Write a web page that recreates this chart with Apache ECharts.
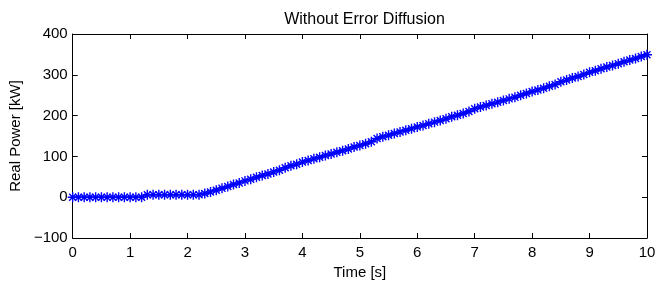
<!DOCTYPE html>
<html>
<head>
<meta charset="utf-8">
<script src="https://cdn.jsdelivr.net/npm/echarts@6/dist/echarts.min.js"></script>
<style>html,body{margin:0;padding:0;background:#fff}#c{width:664px;height:285px}</style>
</head>
<body>
<div id="c"></div>
<script>
var titleText = 'Without Error Diffusion';
var xName = 'Time [s]';
var yName = 'Real Power [kW]';
var xTicks = [0,1,2,3,4,5,6,7,8,9,10];
var yTicks = [-100,0,100,200,300,400];
var timeStep = 0.1;
var power = [
  0,0,0,0,0,0,0,0,0,0,0,0,0,
  6,6,6,6,6,6,6,6,6,6,
  9,13,17,22,26,31,35,40,44,49,53,57,62,66,72,77,81,86,90,94,98,102,106,110,114,118,123,127,131,136,
  144,148,152,156,160,164,168,172,176,180,184,188,192,197,201,205,210,
  217,221,225,229,233,237,241,245,250,254,259,263,267,272,276,
  283,287,292,296,301,306,310,315,319,323,327,332,336,340,345,349
];
var times = power.map(function(_, i){ return +(i*timeStep).toFixed(1); });

var chart = echarts.init(document.getElementById('c'));
var font = 'Liberation Sans, Arial, sans-serif';
var star = 'path://M0,5L10,5M5,0L5,10M1.5,1.5L8.5,8.5M8.5,1.5L1.5,8.5';
chart.setOption({
  animation: false,
  title: {
    text: titleText, left: 359.5, textAlign: 'center', top: 7,
    textStyle: {fontFamily: font, fontSize: 16, fontWeight: 'normal', color: '#000'}
  },
  grid: {left: 72, right: 17, top: 34, bottom: 44, containLabel: false},
  xAxis: [{
    type: 'value', min: xTicks[0], max: xTicks[xTicks.length-1], interval: 1,
    name: xName, nameLocation: 'middle', nameGap: 27,
    nameTextStyle: {fontFamily: font, fontSize: 15, color: '#000'},
    axisLine: {show: true, onZero: false, lineStyle: {color: '#000', width: 1}},
    axisTick: {show: true, inside: true, length: 5, lineStyle: {color: '#000'}},
    axisLabel: {fontFamily: font, fontSize: 15, color: '#000', margin: 7},
    splitLine: {show: false}
  }, {
    type: 'value', position: 'top', min: xTicks[0], max: xTicks[xTicks.length-1], interval: 1,
    axisLine: {show: true, onZero: false, lineStyle: {color: '#000', width: 1}},
    axisTick: {show: true, inside: true, length: 5, lineStyle: {color: '#000'}},
    axisLabel: {show: false}, splitLine: {show: false}
  }],
  yAxis: [{
    type: 'value', min: yTicks[0], max: yTicks[yTicks.length-1], interval: 100,
    name: yName, nameLocation: 'middle', nameGap: 47, nameRotate: 90,
    nameTextStyle: {fontFamily: font, fontSize: 15, color: '#000'},
    axisLine: {show: true, onZero: false, lineStyle: {color: '#000', width: 1}},
    axisTick: {show: true, inside: true, length: 5, lineStyle: {color: '#000'}},
    axisLabel: {fontFamily: font, fontSize: 15, color: '#000', margin: 5,
      formatter: function(v){ return v < 0 ? '\u2212' + (-v) : '' + v; }},
    splitLine: {show: false}
  }, {
    type: 'value', position: 'right', min: yTicks[0], max: yTicks[yTicks.length-1], interval: 100,
    axisLine: {show: true, onZero: false, lineStyle: {color: '#000', width: 1}},
    axisTick: {show: true, inside: true, length: 5, lineStyle: {color: '#000'}},
    axisLabel: {show: false}, splitLine: {show: false}
  }],
  series: [{
    type: 'line',
    data: times.map(function(t, i){ return [t, power[i]]; }),
    showAllSymbol: true,
    symbol: star, symbolSize: 10,
    lineStyle: {color: '#0000ff', width: 1.2},
    itemStyle: {color: 'none', borderColor: '#0000ff', borderWidth: 1.4},
    emphasis: {disabled: true}
  }]
});
</script>
</body>
</html>
